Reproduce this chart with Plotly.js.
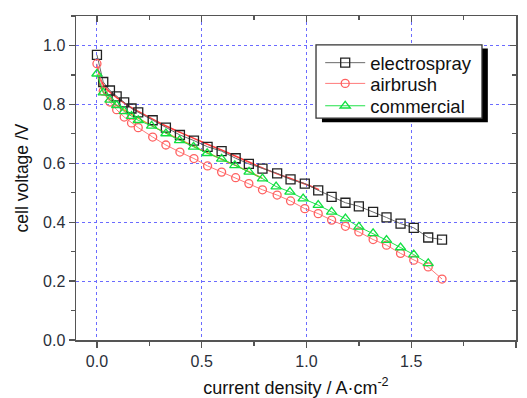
<!DOCTYPE html>
<html>
<head>
<meta charset="utf-8">
<script src="https://cdn.plot.ly/plotly-3.0.1.min.js"></script>
<style>html,body{margin:0;padding:0;background:#fff;}#chart{width:527px;height:398px;}</style>
</head>
<body>
<div id="chart"></div>
<script>
// current density (A/cm^2)
var currentDensity = [0, 0.03, 0.062, 0.094, 0.13, 0.165, 0.197, 0.266, 0.329, 0.396, 0.463, 0.528, 0.595, 0.662, 0.725, 0.79, 0.86, 0.924, 0.992, 1.056, 1.12, 1.186, 1.25, 1.318, 1.382, 1.449, 1.512, 1.581, 1.647];
var electrosprayV = [0.968, 0.876, 0.847, 0.827, 0.807, 0.786, 0.773, 0.746, 0.721, 0.696, 0.677, 0.656, 0.641, 0.617, 0.598, 0.582, 0.566, 0.545, 0.531, 0.508, 0.486, 0.466, 0.454, 0.435, 0.416, 0.395, 0.381, 0.348, 0.341];
var airbrushV = [0.938, 0.845, 0.808, 0.782, 0.757, 0.737, 0.721, 0.689, 0.662, 0.638, 0.616, 0.591, 0.570, 0.551, 0.531, 0.510, 0.492, 0.472, 0.446, 0.429, 0.407, 0.386, 0.367, 0.341, 0.322, 0.294, 0.271, 0.248, 0.207];
var commercialX = [0, 0.03, 0.062, 0.094, 0.13, 0.165, 0.197, 0.261, 0.329, 0.394, 0.461, 0.526, 0.595, 0.658, 0.726, 0.79, 0.855, 0.921, 0.984, 1.056, 1.12, 1.186, 1.25, 1.318, 1.382, 1.449, 1.512, 1.581];
var commercialV = [0.904, 0.840, 0.815, 0.797, 0.776, 0.760, 0.746, 0.727, 0.701, 0.678, 0.656, 0.634, 0.615, 0.593, 0.571, 0.548, 0.521, 0.503, 0.480, 0.458, 0.435, 0.412, 0.384, 0.362, 0.339, 0.314, 0.290, 0.260];
// fitted curves
var fitElectrosprayX = [0.003, 0.02, 0.05, 0.1, 0.15, 0.2, 0.3, 0.4, 0.5, 0.6, 0.7, 0.8, 0.9, 1.0, 1.06];
var fitElectrosprayV = [0.93, 0.88, 0.85, 0.82, 0.795, 0.775, 0.737, 0.704, 0.673, 0.643, 0.612, 0.581, 0.554, 0.528, 0.51];
var fitCommercialX = [0.003, 0.02, 0.05, 0.1, 0.15, 0.2, 0.3, 0.4, 0.5, 0.6, 0.7, 0.79];
var fitCommercialV = [0.90, 0.855, 0.823, 0.795, 0.772, 0.752, 0.713, 0.679, 0.645, 0.612, 0.580, 0.549];

var seriesNames = ["electrospray", "airbrush", "commercial"];
var xTitle = "current density / A·cm<sup>-2</sup>";
var yTitle = "cell voltage /V";

var FONT = "Arial, 'Liberation Sans', sans-serif";

var traces = [
  {x: fitElectrosprayX, y: fitElectrosprayV, mode: "lines", line: {color: "#ff3b3b", width: 1.6, shape: "spline"}, showlegend: false, hoverinfo: "skip"},
  {x: fitCommercialX, y: fitCommercialV, mode: "lines", line: {color: "#e8962a", width: 1.4, shape: "spline"}, showlegend: false, hoverinfo: "skip"},
  {x: currentDensity, y: electrosprayV, name: seriesNames[0], mode: "lines+markers", legend: "legend",
   line: {color: "#6a6a6a", width: 1}, marker: {symbol: "square-open", size: 9, color: "#222", line: {width: 1.3}}},
  {x: currentDensity, y: airbrushV, name: seriesNames[1], mode: "lines+markers", legend: "legend2",
   line: {color: "#ff7a7a", width: 1}, marker: {symbol: "circle-open", size: 8, color: "#ff6060", line: {width: 1.3}}},
  {x: commercialX, y: commercialV, name: seriesNames[2], mode: "lines+markers", legend: "legend3",
   line: {color: "#22e24a", width: 1}, marker: {symbol: "triangle-up-open", size: 9, color: "#10e040", line: {width: 1.3}}}
];

var gridStyle = {showgrid: true, gridcolor: "#6b6bff", gridwidth: 1, griddash: "dot"};

function legendAt(yp) {
  return {x: 0.555, y: yp, xanchor: "left", yanchor: "middle", bgcolor: "rgba(0,0,0,0)", borderwidth: 0,
          font: {family: FONT, size: 18.5, color: "#111"}, itemwidth: 40, tracegroupgap: 0};
}

var layout = {
  width: 527, height: 398,
  margin: {l: 76, r: 11, t: 16, b: 58},
  paper_bgcolor: "#fff", plot_bgcolor: "#fff",
  font: {family: FONT, color: "#222"},
  showlegend: true,
  legend: legendAt(0.8545),
  legend2: legendAt(0.7905),
  legend3: legendAt(0.7215),
  xaxis: Object.assign({
    range: [-0.1, 2.0], dtick: 0.5, tick0: 0, tickformat: ".1f",
    ticks: "outside", ticklen: 6, tickwidth: 1.3, tickcolor: "#555",
    minor: {dtick: 0.25, tick0: 0, ticks: "outside", ticklen: 4, tickcolor: "#555", showgrid: false},
    showline: true, linecolor: "#555", linewidth: 1.5, mirror: true, zeroline: false,
    tickfont: {family: FONT, size: 16, color: "#2a2f3a"},
    title: {text: xTitle, font: {family: FONT, size: 18, color: "#111"}, standoff: 14}
  }, gridStyle),
  yaxis: Object.assign({
    range: [0, 1.1], dtick: 0.2, tick0: 0, tickformat: ".1f",
    ticks: "outside", ticklen: 6, tickwidth: 1.3, tickcolor: "#555",
    minor: {dtick: 0.1, tick0: 0, ticks: "outside", ticklen: 4, tickcolor: "#555", showgrid: false},
    showline: true, linecolor: "#555", linewidth: 1.5, mirror: true, zeroline: false,
    tickfont: {family: FONT, size: 16, color: "#2a2f3a"},
    title: {text: yTitle, font: {family: FONT, size: 17.5, color: "#111"}, standoff: 10}
  }, gridStyle),
  xaxis2: {overlaying: "x", side: "top", range: [-0.1, 2.0], dtick: 0.5, tick0: 0, showticklabels: false, showgrid: false, zeroline: false,
           ticks: "inside", ticklen: 6, tickwidth: 1.3, tickcolor: "#555",
           minor: {dtick: 0.25, tick0: 0, ticks: "inside", ticklen: 4, tickcolor: "#555", showgrid: false}, showline: false},
  yaxis2: {overlaying: "y", side: "right", range: [0, 1.1], dtick: 0.2, tick0: 0, showticklabels: false, showgrid: false, zeroline: false,
           ticks: "inside", ticklen: 6, tickwidth: 1.3, tickcolor: "#555",
           minor: {dtick: 0.1, tick0: 0, ticks: "inside", ticklen: 4, tickcolor: "#555", showgrid: false}, showline: false},
  shapes: [
    {type: "rect", xref: "paper", yref: "paper", x0: 0.559, x1: 0.936, y0: 0.672, y1: 0.900, fillcolor: "#000", line: {width: 0}, layer: "above"},
    {type: "rect", xref: "paper", yref: "paper", x0: 0.5455, x1: 0.9227, y0: 0.6845, y1: 0.9106, fillcolor: "#fff", line: {color: "#333", width: 1.3}, layer: "above"}
  ]
};

traces.push({x: [null], y: [null], xaxis: "x2", yaxis: "y2", showlegend: false, hoverinfo: "skip", mode: "markers"});

Plotly.newPlot("chart", traces, layout, {displayModeBar: false, staticPlot: true});
</script>
</body>
</html>
